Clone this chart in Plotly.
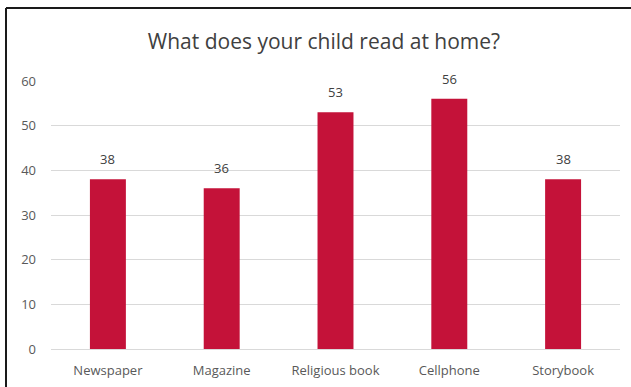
import plotly.graph_objects as go

categories = ["Newspaper", "Magazine", "Religious book", "Cellphone", "Storybook"]
values = [38, 36, 53, 56, 38]
y_ticks = [0, 10, 20, 30, 40, 50, 60]

W, H = 631, 387
ml, mr, mt, mb = 51, 11, 81, 38
pw, ph = W - ml - mr, H - mt - mb

def px_x(x):
    return (x - ml) / pw

def px_y(y):
    return 1 - (y - mt) / ph

fig = go.Figure(go.Bar(
    x=categories, y=values, width=0.316,
    marker=dict(color="#C41239", line=dict(width=0)),
))

for c, v in zip(categories, values):
    fig.add_annotation(x=c, y=v, text=str(v), showarrow=False, yanchor="middle", yshift=20,
                       font=dict(family="Open Sans", size=13, color="#404040"))

fig.update_layout(
    width=W, height=H,
    margin=dict(l=ml, r=mr, t=mt, b=mb, autoexpand=False),
    paper_bgcolor="white", plot_bgcolor="white",
    showlegend=False,
    title=dict(text="What does your child read at home?", xref="container", x=324 / W, xanchor="center",
               yref="container", y=1 - 42 / H, yanchor="middle",
               font=dict(family="Open Sans", size=21, color="#404040")),
    xaxis=dict(showgrid=False, showline=False, ticks="", ticklabelstandoff=12, automargin=False,
               tickfont=dict(family="Open Sans", size=13, color="#595959")),
    yaxis=dict(range=[0, 60], tickvals=y_ticks, showgrid=True, gridcolor="#D9D9D9", gridwidth=1,
               zeroline=True, zerolinecolor="#D9D9D9", zerolinewidth=1, showline=False, ticks="",
               ticklabelstandoff=14, automargin=False,
               tickfont=dict(family="Open Sans", size=13, color="#595959")),
    shapes=[
        dict(type="line", xref="paper", yref="paper", x0=px_x(6), x1=px_x(6), y0=px_y(8), y1=px_y(400),
             line=dict(color="#1a1a1a", width=2)),
        dict(type="line", xref="paper", yref="paper", x0=px_x(6), x1=px_x(640), y0=px_y(8), y1=px_y(8),
             line=dict(color="#1a1a1a", width=2)),
    ],
)

fig.write_html("out.html")
